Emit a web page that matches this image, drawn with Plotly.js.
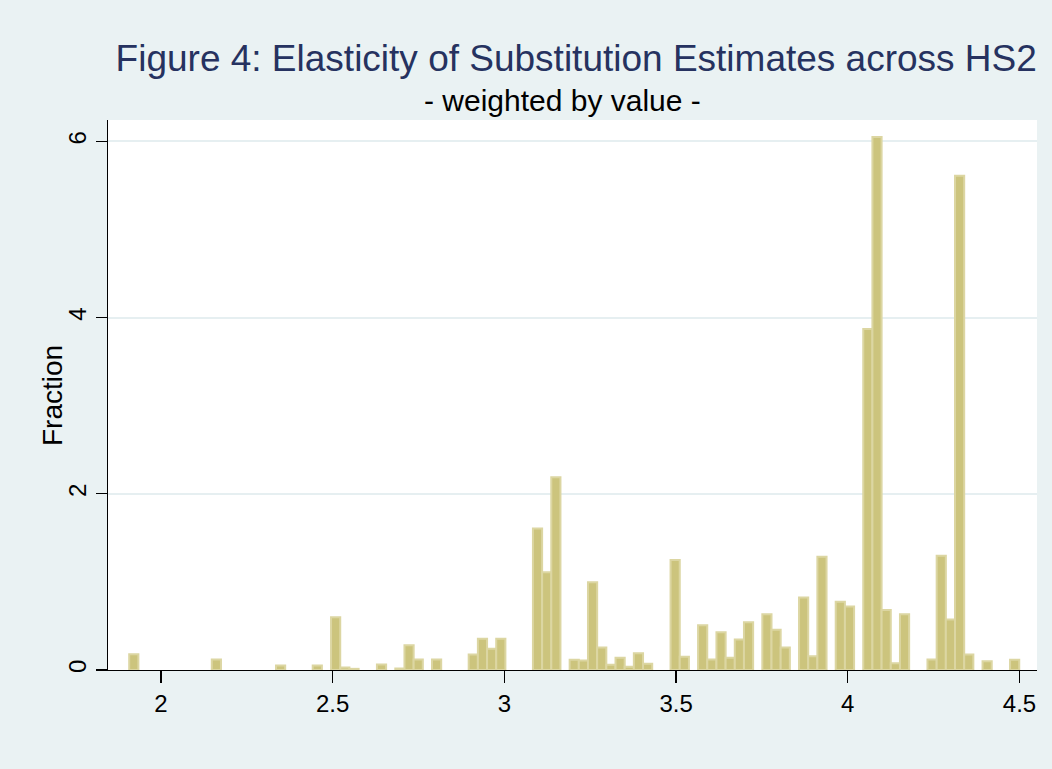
<!DOCTYPE html>
<html>
<head>
<meta charset="utf-8">
<script src="https://cdn.plot.ly/plotly-3.0.1.min.js"></script>
<style>
  html, body { margin: 0; padding: 0; background: #EAF2F3; }
  #chart { width: 1052px; height: 769px; }
</style>
</head>
<body>
<div id="chart"></div>
<script>
// Histogram bin centers (elasticity estimate) and bar heights (Fraction, weighted by value)
var binWidth = 0.02672;
var binCenters = [
  1.9208, 2.1613, 2.3483, 2.4552, 2.5086, 2.5354, 2.5621, 2.6422, 2.6957, 2.7224,
  2.7491, 2.8026, 2.9094, 2.9362, 2.9629, 2.9896, 3.0965, 3.1232, 3.1499, 3.2034,
  3.2301, 3.2568, 3.2835, 3.3102, 3.3370, 3.3637, 3.3904, 3.4171, 3.4973, 3.5240,
  3.5774, 3.6042, 3.6309, 3.6576, 3.6843, 3.7110, 3.7645, 3.7912, 3.8179, 3.8714,
  3.8981, 3.9248, 3.9782, 4.0050, 4.0584, 4.0851, 4.1118, 4.1386, 4.1653, 4.2454,
  4.2722, 4.2989, 4.3256, 4.3523, 4.4058, 4.4859
];
var fractions = [
  0.18, 0.12, 0.05, 0.05, 0.60, 0.028, 0.013, 0.062, 0.017, 0.28,
  0.12, 0.12, 0.176, 0.354, 0.24, 0.354, 1.605, 1.109, 2.187, 0.116,
  0.108, 0.996, 0.255, 0.059, 0.138, 0.036, 0.19, 0.07, 1.25, 0.15,
  0.508, 0.119, 0.429, 0.138, 0.346, 0.542, 0.633, 0.456, 0.255, 0.822,
  0.157, 1.287, 0.774, 0.72, 3.87, 6.05, 0.68, 0.078, 0.634, 0.12,
  1.297, 0.573, 5.61, 0.176, 0.098, 0.115
];
var xTickVals = [2, 2.5, 3, 3.5, 4, 4.5];
var xTickText = ["2", "2.5", "3", "3.5", "4", "4.5"];
var yTickVals = [0, 2, 4, 6];
var yTickText = ["0", "2", "4", "6"];

var trace = {
  type: 'bar',
  x: binCenters,
  y: fractions,
  width: binCenters.map(function () { return binWidth; }),
  marker: {
    color: 'rgb(204,196,125)',
    line: { color: 'rgb(220,214,162)', width: 2 }
  },
  hoverinfo: 'x+y'
};

var FONT = 'Liberation Sans, Arial, Helvetica, sans-serif';

var layout = {
  width: 1052,
  height: 769,
  paper_bgcolor: '#EAF2F3',
  plot_bgcolor: '#FFFFFF',
  margin: { l: 108, r: 15, t: 120, b: 98.5, pad: 0 },
  font: { family: FONT, color: '#000000', size: 23 },
  showlegend: false,
  bargap: 0,
  title: {
    text: 'Figure 4: Elasticity of Substitution Estimates across HS2',
    font: { family: FONT, size: 37, color: '#263260' },
    x: 0.504, xref: 'paper', xanchor: 'center',
    y: 0.925, yref: 'container', yanchor: 'middle'
  },
  annotations: [{
    text: '- weighted by value -',
    xref: 'paper', yref: 'paper',
    x: 0.4887, y: 1.0354, xanchor: 'center', yanchor: 'middle',
    showarrow: false,
    font: { family: FONT, size: 30, color: '#000000' }
  }, {
    text: 'Fraction',
    xref: 'paper', yref: 'paper',
    x: -0.0603, y: 0.5, xanchor: 'center', yanchor: 'middle',
    textangle: -90,
    showarrow: false,
    font: { family: FONT, size: 28, color: '#000000' }
  }],
  xaxis: {
    range: [1.8457, 4.551],
    tickmode: 'array',
    tickvals: xTickVals,
    ticktext: xTickText,
    ticks: 'outside', ticklen: 12, tickwidth: 1.3, tickcolor: '#000000',
    showline: true, linecolor: '#000000', linewidth: 1.3,
    showgrid: false, zeroline: false,
    tickfont: { family: FONT, size: 24, color: '#000000' }
  },
  yaxis: {
    range: [0, 6.244],
    tickmode: 'array',
    tickvals: yTickVals,
    ticktext: yTickText,
    tickangle: -90,
    ticks: 'outside', ticklen: 11, tickwidth: 1.3, tickcolor: '#000000',
    showline: true, linecolor: '#000000', linewidth: 1.3,
    showgrid: true, gridcolor: '#E6EFF1', gridwidth: 2,
    zeroline: false,
    tickfont: { family: FONT, size: 24, color: '#000000' }
  }
};

Plotly.newPlot('chart', [trace], layout, { displayModeBar: false, staticPlot: true });
</script>
</body>
</html>
